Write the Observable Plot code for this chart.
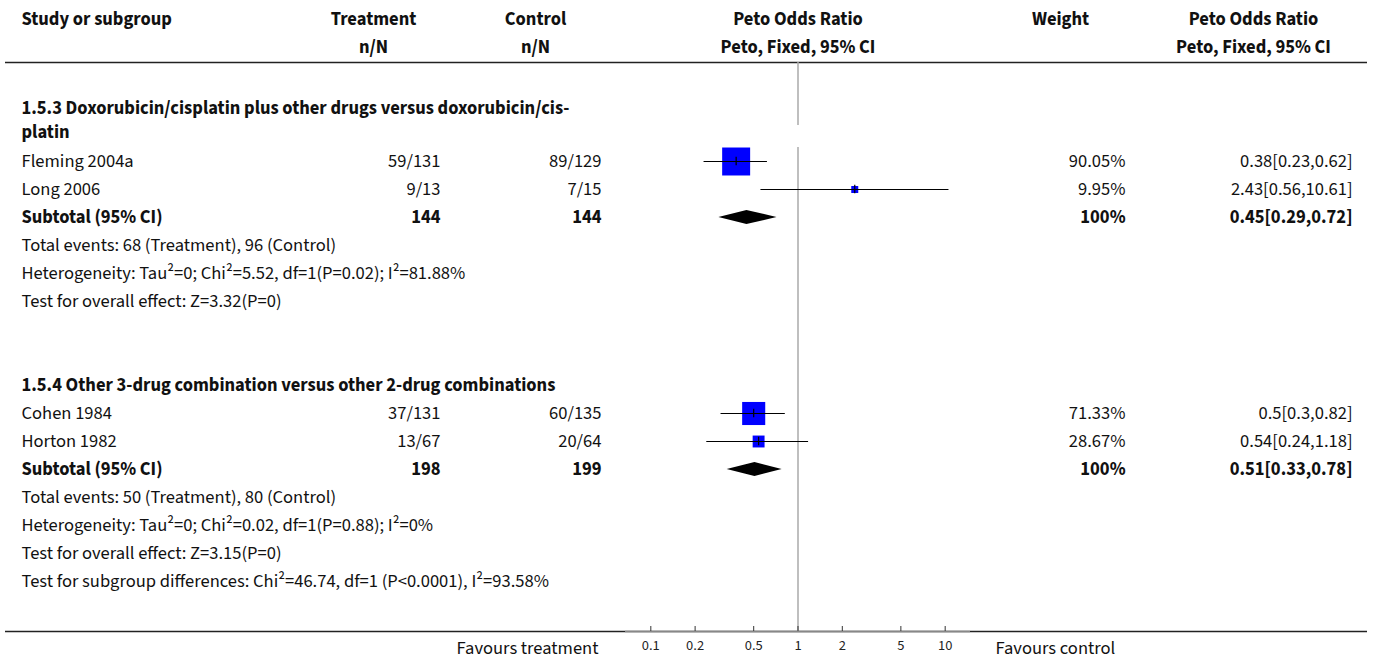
<!DOCTYPE html>
<html>
<head>
<meta charset="utf-8">
<script src="https://cdn.jsdelivr.net/npm/d3@7"></script>
<script src="https://cdn.jsdelivr.net/npm/@observablehq/plot@0.6"></script>
<style>
  html, body { margin: 0; padding: 0; background: #fff; }
  #chart svg { display: block; }
</style>
</head>
<body>
<div id="chart"></div>
<script>
// ---- Study-level data ----
const studyNames  = ["Fleming 2004a", "Long 2006", "Cohen 1984", "Horton 1982"];
const studyGroup  = [0, 0, 1, 1];
const treatEvents = [59, 9, 37, 13];
const treatTotal  = [131, 13, 131, 67];
const ctrlEvents  = [89, 7, 60, 20];
const ctrlTotal   = [129, 15, 135, 64];
const studyWeight = [90.05, 9.95, 71.33, 28.67];
const studyOR     = [0.38, 2.43, 0.5, 0.54];
const studyLo     = [0.23, 0.56, 0.3, 0.24];
const studyHi     = [0.62, 10.61, 0.82, 1.18];

// ---- Subgroup-level data ----
const groupTitles = [
  "1.5.3 Doxorubicin/cisplatin plus other drugs versus doxorubicin/cis-\nplatin",
  "1.5.4 Other 3-drug combination versus other 2-drug combinations"
];
const groupTreatTotal = [144, 198];
const groupCtrlTotal  = [144, 199];
const groupWeight     = [100, 100];
const groupOR         = [0.45, 0.51];
const groupLo         = [0.29, 0.33];
const groupHi         = [0.72, 0.78];
const groupEvents = [
  "Total events: 68 (Treatment), 96 (Control)",
  "Total events: 50 (Treatment), 80 (Control)"
];
const groupHet = [
  "Heterogeneity: Tau²=0; Chi²=5.52, df=1(P=0.02); I²=81.88%",
  "Heterogeneity: Tau²=0; Chi²=0.02, df=1(P=0.88); I²=0%"
];
const groupEffect = [
  "Test for overall effect: Z=3.32(P=0)",
  "Test for overall effect: Z=3.15(P=0)"
];
const subgroupDiff = "Test for subgroup differences: Chi²=46.74, df=1 (P<0.0001), I²=93.58%";

// ---- Header and axis text ----
const headTop = ["Study or subgroup", "Treatment", "Control", "Peto Odds Ratio", "Weight", "Peto Odds Ratio"];
const headSub = ["", "n/N", "n/N", "Peto, Fixed, 95% CI", "", "Peto, Fixed, 95% CI"];
const axisTicks = [0.1, 0.2, 0.5, 1, 2, 5, 10];
const favours = ["Favours treatment", "Favours control"];

// ---- Layout constants ----
const W = 1375, H = 662;
const FONT = "'Source Sans Pro', 'Source Sans 3', Lato, sans-serif";
const FS = 18.5;
const rowPx = 28;
const firstRowPx = 161;            // pixel centre of the first study row
const axisPx = 631;                // pixel position of the bottom rule / axis
const yMin = -firstRowPx / rowPx;
const yMax = (axisPx - firstRowPx) / rowPx;
const yHeadRule = (62 - firstRowPx) / rowPx;
const xDomain = [0.0673, 14.86];
const xRange = [625, 970];
const col = { label: 21, treat: 440, ctrl: 601, weight: 1125, ci: 1352 };
// header column centres (null = centred on the line of no effect)
const headCenters = [21, 373, 535, null, 1060, 1253];
const headDy = [11, 39];
const titleLineGap = 0.86;         // spacing of wrapped title lines, in rows

// ---- Build table rows (y in row units) ----
const rows = [];
const studies = [];
const totals = [];
let r = 0;
groupTitles.forEach((title, g) => {
  if (g > 0) r += 3;
  const lines = title.split("\n");
  const centre = r - 1 - 0.464 * (lines.length - 1);
  lines.forEach((line, k) => {
    rows.push({ y: centre + (k - (lines.length - 1) / 2) * titleLineGap, label: line, bold: true });
  });
  studyNames.forEach((name, i) => {
    if (studyGroup[i] !== g) return;
    const row = {
      y: r, label: name,
      treat: `${treatEvents[i]}/${treatTotal[i]}`,
      ctrl: `${ctrlEvents[i]}/${ctrlTotal[i]}`,
      weight: `${studyWeight[i]}%`,
      ci: `${studyOR[i]}[${studyLo[i]},${studyHi[i]}]`,
      or: studyOR[i], lo: studyLo[i], hi: studyHi[i], w: studyWeight[i]
    };
    rows.push(row); studies.push(row); r++;
  });
  const tot = {
    y: r, label: "Subtotal (95% CI)", bold: true,
    treat: String(groupTreatTotal[g]), ctrl: String(groupCtrlTotal[g]),
    weight: `${groupWeight[g]}%`,
    ci: `${groupOR[g]}[${groupLo[g]},${groupHi[g]}]`,
    or: groupOR[g], lo: groupLo[g], hi: groupHi[g], g
  };
  rows.push(tot); totals.push(tot); r++;
  rows.push({ y: r++, label: groupEvents[g] });
  rows.push({ y: r++, label: groupHet[g] });
  rows.push({ y: r++, label: groupEffect[g] });
});
rows.push({ y: r, label: subgroupDiff });

// Diamond outlines for the subtotals
const dh = 0.25;
const diamonds = totals.flatMap(t => [
  { g: t.g, y: t.y - dh, x1: t.or, x2: t.or },
  { g: t.g, y: t.y, x1: t.lo, x2: t.hi },
  { g: t.g, y: t.y + dh, x1: t.or, x2: t.or }
]);

const normalRows = rows.filter(d => !d.bold);
const boldRows = rows.filter(d => d.bold);
const txt = { fontSize: FS, fill: "#111" };

function columnText(data, key, dx, weight) {
  return Plot.text(data.filter(d => d[key] != null), {
    y: "y", text: key, frameAnchor: "left", dx, textAnchor: "end",
    fontWeight: weight, ...txt
  });
}

// header cells: one text mark per non-empty cell
const headerMarks = headTop.flatMap((t, i) =>
  [t, headSub[i]].map((s, k) => {
    if (!s) return null;
    const place = headCenters[i] == null
      ? { x: () => 1, frameAnchor: "top" }
      : { frameAnchor: "top-left", dx: headCenters[i] };
    return Plot.text([s], {
      text: d => d, ...place, dy: headDy[k],
      textAnchor: i === 0 ? "start" : "middle", fontWeight: "bold", ...txt
    });
  }).filter(Boolean)
);

const chart = Plot.plot({
  width: W, height: H,
  marginTop: 0, marginRight: 0, marginLeft: 0, marginBottom: H - axisPx,
  style: { fontFamily: FONT, background: "#fff" },
  x: { type: "log", domain: xDomain, range: xRange, axis: null },
  y: { type: "linear", domain: [yMin, yMax], range: [0, axisPx], axis: null },
  // square side grows linearly with the study weight
  r: { type: "linear", domain: [0, 100], range: [2.48, 17.26] },
  marks: [
    // header rule and bottom rule
    Plot.ruleY([yHeadRule], { stroke: "#222", strokeWidth: 1.5, insetLeft: 5, insetRight: 8 }),
    Plot.ruleY([yMax], { stroke: "#222", strokeWidth: 1.5, insetLeft: 5, insetRight: 8 }),
    Plot.ruleY([yMax], { x1: xDomain[0], x2: xDomain[1], stroke: "#888", strokeWidth: 1.5 }),

    // line of no effect
    Plot.ruleX([1], { y1: yHeadRule, y2: -1.29, stroke: "#aaa", strokeWidth: 1.5 }),
    Plot.ruleX([1], { y1: -0.5, y2: yMax, stroke: "#aaa", strokeWidth: 1.5 }),

    // study squares, confidence intervals, point-estimate ticks
    Plot.dot(studies, { x: "or", y: "y", r: "w", symbol: "square", fill: "#0000ff", stroke: null }),
    Plot.ruleY(studies, { y: "y", x1: "lo", x2: "hi", stroke: "#000", strokeWidth: 1.2 }),
    Plot.ruleX(studies, { x: "or", y1: d => d.y - 0.15, y2: d => d.y + 0.15, stroke: "#000", strokeWidth: 1.2 }),

    // subtotal diamonds
    Plot.areaX(diamonds, { y: "y", x1: "x1", x2: "x2", z: "g", fill: "#000", curve: "linear" }),

    // axis ticks and labels
    Plot.ruleX(axisTicks, { x: d => d, y1: yMax - 5 / rowPx, y2: yMax, stroke: "#333", strokeWidth: 1 }),
    Plot.text(axisTicks, { x: d => d, text: d => String(d), frameAnchor: "bottom", dy: 18, fontSize: 14.5, fill: "#222" }),
    Plot.text([favours[0]], { x: () => xDomain[0], text: d => d, frameAnchor: "bottom", dy: 22, dx: -27, textAnchor: "end", ...txt }),
    Plot.text([favours[1]], { x: () => xDomain[1], text: d => d, frameAnchor: "bottom", dy: 22, dx: 25, textAnchor: "start", ...txt }),

    // left label column
    Plot.text(normalRows, { y: "y", text: "label", frameAnchor: "left", dx: col.label, textAnchor: "start", ...txt }),
    Plot.text(boldRows, { y: "y", text: "label", frameAnchor: "left", dx: col.label, textAnchor: "start", fontWeight: "bold", ...txt }),

    // numeric columns
    columnText(normalRows, "treat", col.treat, "normal"),
    columnText(boldRows, "treat", col.treat, "bold"),
    columnText(normalRows, "ctrl", col.ctrl, "normal"),
    columnText(boldRows, "ctrl", col.ctrl, "bold"),
    columnText(normalRows, "weight", col.weight, "normal"),
    columnText(boldRows, "weight", col.weight, "bold"),
    columnText(normalRows, "ci", col.ci, "normal"),
    columnText(boldRows, "ci", col.ci, "bold"),

    ...headerMarks
  ]
});

document.getElementById("chart").appendChild(chart);
</script>
</body>
</html>
